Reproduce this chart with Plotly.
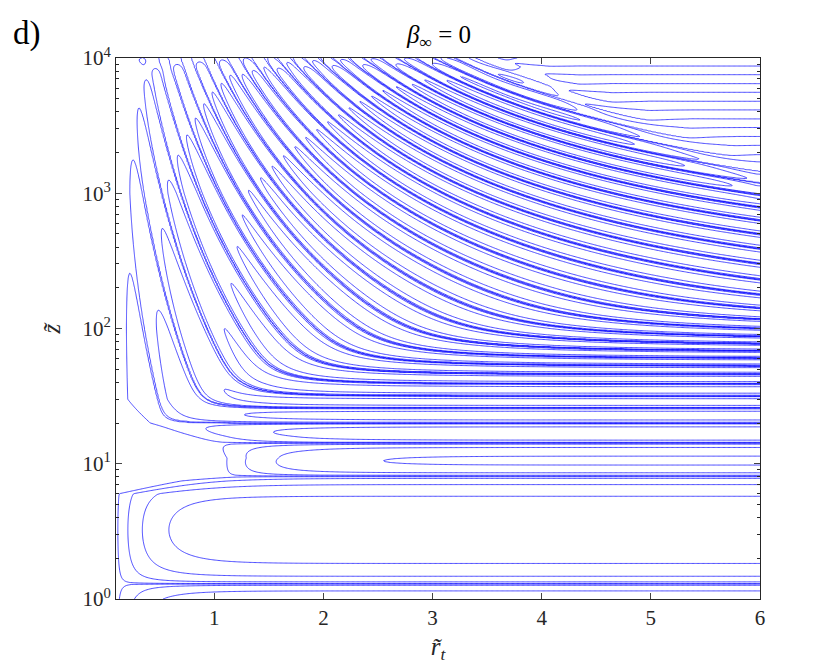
import numpy as np
import plotly.graph_objects as go

z_flat = [1.3, 8.1, 14.2, 20.0, 25.8, 31.7, 38.8]
n_flat = [-1, 0, 1, 2, 3, 4, 5]
# fan of lines in the upper part: phase = c * z^a * g(r_t), g bending over at r_knee
phase_c, phase_a, phase_0 = 4.0, 0.224, 0.5 * np.pi
r_shift, r_knee = 0.07, 4.5
# amplitude: peak value, offset radius and build-up radius vs z (sets where the loops close)
z_amp = [1.0, 3.0, 6.0, 7.5, 8.1, 11.0, 14.0, 16.0, 20.0, 30.0, 100.0, 1000.0, 10000.0]
a_max = [4.3, 4.3, 4.3, 4.0, 3.8, 3.6, 3.4, 3.2, 3.0, 2.9, 2.9, 2.9, 2.9]
r_off = [0.08, 0.08, 0.08, 0.6, 1.05, 1.05, 0.95, 0.7, 0.3, 0.1, 0.1, 0.1, 0.1]
r_amp = [0.3, 0.3, 0.3, 0.4, 0.4, 0.45, 0.5, 0.6, 0.6, 0.5, 0.5, 0.6, 1.5]
# edge of the quiet region in the top right corner
r_edge = [3.25, 5.97]
z_edge = [10000, 1230]
# contour levels
levels = [-3.5, -2.5, -1.5, -0.5, 0.5, 1.5, 2.5, 3.5]

xticks = [1, 2, 3, 4, 5, 6]
yticks = [1, 10, 100, 1000, 10000]
yticklabels = ["10<sup>0</sup>", "10<sup>1</sup>", "10<sup>2</sup>", "10<sup>3</sup>", "10<sup>4</sup>"]
yminor = [m * 10 ** k for k in range(4) for m in range(2, 10)]

r = np.linspace(0.1, 6, 520)
u = np.linspace(0, np.log(1e4), 560)
R, U = np.meshgrid(r, u)
Z = np.exp(U)

# phase: fan of lines, limited by the flat asymptotes
lz = np.log(z_flat)
n_inf = np.interp(U, lz, n_flat)
low = U < lz[0]
n_inf[low] = -1 + (U[low] - lz[0]) / (lz[1] - lz[0])
high = Z > z_flat[-1]
n_inf[high] = n_flat[-1] + (Z[high] - z_flat[-1]) / 6.8
phi_inf = np.pi * n_inf
rr = R + r_shift
g = rr / np.sqrt(1 + (rr / r_knee) ** 2)
phi_s = phase_c * Z ** phase_a * g
k = 5.0
top = phi_inf - phase_0
pos = np.maximum(top, 1e-6)
phi = np.where(top > 0, (phi_s ** -k + pos ** -k) ** (-1 / k) + phase_0, phi_inf)

# amplitude
lza = np.log(z_amp)
am = np.interp(U, lza, a_max)
ro = np.interp(U, lza, r_off)
ra = np.exp(np.interp(U, lza, np.log(r_amp)))
A = am * (1 - np.exp(-np.maximum(R - ro, 0) / ra))

# quiet corner
lzb = np.interp(R, r_edge, np.log10(z_edge))
D = 1 / (1 + np.exp((U / np.log(10) - lzb) / 0.05))
psi = 0.5 * np.pi * U / 0.15

s = np.sin(phi)
F = D * A * np.sign(s) * np.abs(s) ** 0.35 + (1 - D) * 0.72 * np.sin(psi)
F = np.round(F, 3)

fig = go.Figure()
fig.add_trace(go.Contour(
    x=r, y=np.exp(u), z=F,
    contours=dict(start=levels[0], end=levels[-1], size=1, coloring="lines"),
    colorscale=[[0, "rgb(0,0,255)"], [1, "rgb(0,0,255)"]],
    line=dict(width=0.7),
    showscale=False,
    hoverinfo="skip",
))

font = "Liberation Serif"
axcol = "#262626"
fig.update_layout(
    width=830, height=666,
    margin=dict(l=108, r=78, t=50, b=75),
    paper_bgcolor="white", plot_bgcolor="white",
    font=dict(family=font, size=21, color=axcol),
    showlegend=False,
    xaxis=dict(
        range=[0.1, 6], tickvals=xticks, ticks="inside", ticklen=6,
        showline=True, linecolor=axcol, linewidth=1, mirror="ticks",
        showgrid=False, zeroline=False,
        title=dict(text="<i>r̃</i><sub><i>t</i></sub>", standoff=8, font=dict(size=25)),
    ),
    yaxis=dict(
        type="log", range=[0, 4], tickvals=yticks, ticktext=yticklabels,
        ticks="inside", ticklen=6, showline=True, linecolor=axcol, linewidth=1,
        mirror="allticks", showgrid=False, zeroline=False,
        minor=dict(tickvals=yminor, ticks="inside", ticklen=3, tickcolor=axcol, showgrid=False),
        title=dict(text="<i>z̃</i>", standoff=14, font=dict(size=25)),
    ),
    annotations=[
        dict(text="<i>β</i><sub>∞</sub> = 0", x=0.5, y=1.0, xref="paper", yref="paper",
             xanchor="center", yanchor="bottom", yshift=4, showarrow=False,
             font=dict(size=25, family=font, color="black")),
        dict(text="d)", x=-0.163, y=1.0, xref="paper", yref="paper",
             xanchor="left", yanchor="bottom", yshift=4, showarrow=False,
             font=dict(size=33, family=font, color="black")),
    ],
)

fig.write_html("out.html")
